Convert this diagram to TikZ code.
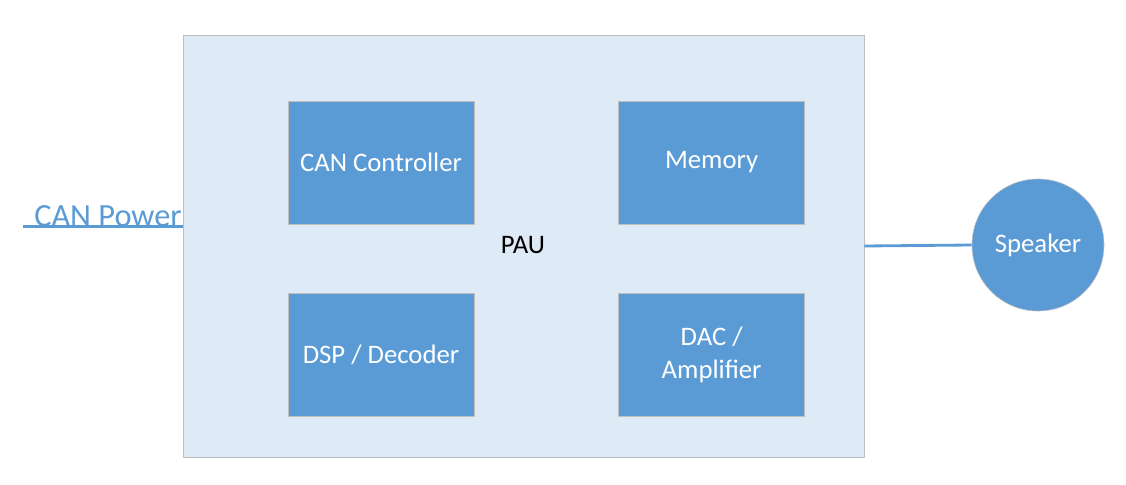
\documentclass[tikz,border=0pt]{standalone}
\usepackage{fontspec}
\setmainfont{Carlito}
\usetikzlibrary{positioning}
\definecolor{blockblue}{HTML}{5B9BD5}
\definecolor{paufill}{HTML}{DEEAF6}
\definecolor{edgegray}{HTML}{BFBFBF}

\begin{document}
\begin{tikzpicture}[x=0.025cm, y=-0.025cm,
    block/.style={draw=edgegray, fill=blockblue, text=white, align=center, inner sep=0pt,
        minimum width=4.65cm, minimum height=3.075cm, font=\fontsize{19}{23.5}\selectfont},
    wire/.style={draw=blockblue, line width=2pt}]

    \useasboundingbox (0,0) rectangle (1126,485);

    \node [draw=edgegray, fill=paufill, minimum width=17.025cm, minimum height=10.55cm, inner sep=0pt] (pau) at (523.5,246) {};
    \node [font=\fontsize{19}{23.5}\selectfont] (paulabel) at (523,245) {PAU};

    \node [block] (can) at (381,162.5) {CAN Controller};
    \node [block, right=3.6cm of can] (mem) {Memory};
    \node [block, below=1.725cm of can] (dsp) {DSP / Decoder};
    \node [block, below=1.725cm of mem] (dac) {DAC /\\Amplifier};

    \node [circle, draw=edgegray, fill=blockblue, text=white, minimum size=3.3cm, inner sep=0pt,
        font=\fontsize{19}{23.5}\selectfont] (spk) at (1038,245) {Speaker};

    \coordinate (pwr) at (23,226.5);
    \node [anchor=base west, text=blockblue, inner sep=0pt, font=\fontsize{23}{27}\selectfont] (pwrlabel) at (34,227) {CAN Power};

    \draw [wire] (pwr) -- (pau.west |- pwr);
    \draw [wire] (pau.east) -- (spk.west);

\end{tikzpicture}
\end{document}
